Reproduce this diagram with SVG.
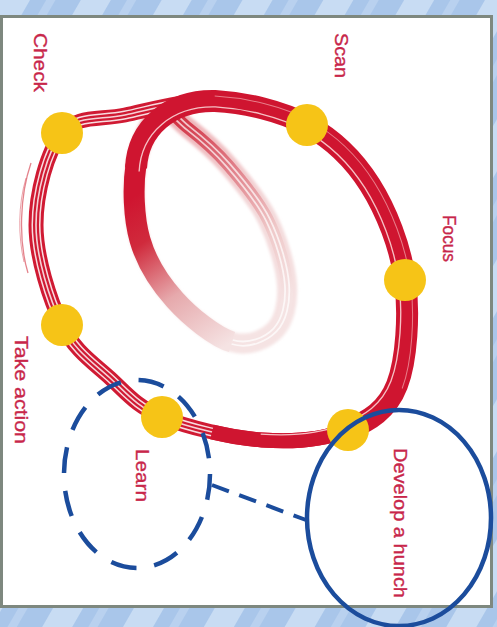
<svg xmlns="http://www.w3.org/2000/svg" width="497" height="627" viewBox="0 0 497 627">
  <defs>
    <pattern id="bgStripes" width="70" height="70" patternUnits="userSpaceOnUse" patternTransform="rotate(30)">
      <rect width="70" height="70" fill="#a9c6ea"/>
      <rect x="0" width="26" height="70" fill="#c8dcf3"/>
      <rect x="40" width="8" height="70" fill="#b9d1ef"/>
    </pattern>
    <linearGradient id="fadeLeft" gradientUnits="userSpaceOnUse" x1="136" y1="195" x2="232" y2="342">
      <stop offset="0" stop-color="#cf1530"/>
      <stop offset="0.25" stop-color="#d02a3c"/>
      <stop offset="0.6" stop-color="#e6a9ac"/>
      <stop offset="1" stop-color="#f5e3e3"/>
    </linearGradient>
    <linearGradient id="haze" gradientUnits="userSpaceOnUse" x1="170" y1="125" x2="270" y2="330">
      <stop offset="0" stop-color="#eeb3b7"/>
      <stop offset="0.5" stop-color="#f3d8d9"/>
      <stop offset="1" stop-color="#f5e3e3"/>
    </linearGradient>
    <linearGradient id="fadeBack" gradientUnits="userSpaceOnUse" x1="165" y1="118" x2="285" y2="300">
      <stop offset="0" stop-color="#d02a3c"/>
      <stop offset="0.35" stop-color="#e07c86"/>
      <stop offset="0.7" stop-color="#efc9c9"/>
      <stop offset="1" stop-color="#f5e3e3"/>
    </linearGradient>
    <filter id="soft" x="-10%" y="-10%" width="120%" height="120%">
      <feGaussianBlur stdDeviation="1.8"/>
    </filter>
    <style>
      .label { font-family: "Liberation Sans", Arial, sans-serif; font-size: 18px; fill: #c8264a; stroke: #c8264a; stroke-width: 0.35; }
      .dot { fill: #f6c417; }
      .ring { fill: none; stroke-linejoin: round; }
      .hl { fill: none; stroke: #1b4c9c; stroke-width: 4.5; }
    </style>
  </defs>

  <!-- backdrop and panel -->
  <rect x="0" y="0" width="497" height="627" fill="url(#bgStripes)"/>
  <rect x="1.5" y="16.5" width="490" height="590" fill="#ffffff" stroke="#7e887f" stroke-width="3"/>

  <!-- inner loop: pale haze with a back strand fading to white -->
  <g id="inner-loop">
    <path class="ring" stroke="url(#haze)" stroke-width="20" filter="url(#soft)" d="M160,112 C151.3,118.2 139.3,143.7 136,165 C132.7,186.3 133.5,217.5 140,240 C146.5,262.5 159.7,283 175,300 C190.3,317 215.3,337 232,342 C248.7,347 265.8,339.5 275,330 C284.2,320.5 288.2,303.3 287,285 C285.8,266.7 277.8,240 268,220 C258.2,200 241.3,180.3 228,165 C214.7,149.7 199.3,136.8 188,128 C176.7,119.2 168.7,105.8 160,112 Z"/>
    <path class="ring" stroke="url(#fadeBack)" stroke-width="12" d="M232,342 C248.7,347 265.8,339.5 275,330 C284.2,320.5 288.2,303.3 287,285 C285.8,266.7 277.8,240 268,220 C258.2,200 241.3,180.3 228,165 C214.7,149.7 199.3,136.8 188,128 C176.7,119.2 168.7,105.8 160,112"/>
    <path class="ring" stroke="#ffffff" stroke-opacity="0.7" stroke-width="6" d="M232,342 C248.7,347 265.8,339.5 275,330 C284.2,320.5 288.2,303.3 287,285 C285.8,266.7 277.8,240 268,220 C258.2,200 241.3,180.3 228,165 C214.7,149.7 199.3,136.8 188,128 C176.7,119.2 168.7,105.8 160,112"/>
    <path class="ring" stroke="url(#fadeBack)" stroke-width="2.5" d="M232,342 C248.7,347 265.8,339.5 275,330 C284.2,320.5 288.2,303.3 287,285 C285.8,266.7 277.8,240 268,220 C258.2,200 241.3,180.3 228,165 C214.7,149.7 199.3,136.8 188,128 C176.7,119.2 168.7,105.8 160,112"/>
  </g>

  <!-- outer loop drawn as bundled thin strands -->
  <g id="outer-loop">
    <path class="ring" stroke="#d01a33" stroke-width="15" d="M62,133 C76.8,114.7 99.5,120.3 125,115 C150.5,109.7 184.7,99.3 215,101 C245.3,102.7 281.2,111 307,125 C332.8,139 353.7,159.2 370,185 C386.3,210.8 400.5,246.7 405,280 C409.5,313.3 406.7,360 397,385 C387.3,410 369.5,420.8 347,430 C324.5,439.2 292.8,442.2 262,440 C231.2,437.8 187.3,427.3 162,417 C136.7,406.7 126.7,393.3 110,378 C93.3,362.7 74.3,350.5 62,325 C49.7,299.5 36,257 36,225 C36,193 47.2,151.3 62,133 Z"/>
    <path class="ring" stroke="#ffffff" stroke-opacity="0.85" stroke-width="9" d="M62,133 C76.8,114.7 99.5,120.3 125,115 C150.5,109.7 184.7,99.3 215,101 C245.3,102.7 281.2,111 307,125 C332.8,139 353.7,159.2 370,185 C386.3,210.8 400.5,246.7 405,280 C409.5,313.3 406.7,360 397,385 C387.3,410 369.5,420.8 347,430 C324.5,439.2 292.8,442.2 262,440 C231.2,437.8 187.3,427.3 162,417 C136.7,406.7 126.7,393.3 110,378 C93.3,362.7 74.3,350.5 62,325 C49.7,299.5 36,257 36,225 C36,193 47.2,151.3 62,133 Z"/>
    <path class="ring" stroke="#d01a33" stroke-width="6" d="M62,133 C76.8,114.7 99.5,120.3 125,115 C150.5,109.7 184.7,99.3 215,101 C245.3,102.7 281.2,111 307,125 C332.8,139 353.7,159.2 370,185 C386.3,210.8 400.5,246.7 405,280 C409.5,313.3 406.7,360 397,385 C387.3,410 369.5,420.8 347,430 C324.5,439.2 292.8,442.2 262,440 C231.2,437.8 187.3,427.3 162,417 C136.7,406.7 126.7,393.3 110,378 C93.3,362.7 74.3,350.5 62,325 C49.7,299.5 36,257 36,225 C36,193 47.2,151.3 62,133 Z"/>
    <path class="ring" stroke="#ffffff" stroke-opacity="0.8" stroke-width="1.6" d="M62,133 C76.8,114.7 99.5,120.3 125,115 C150.5,109.7 184.7,99.3 215,101 C245.3,102.7 281.2,111 307,125 C332.8,139 353.7,159.2 370,185 C386.3,210.8 400.5,246.7 405,280 C409.5,313.3 406.7,360 397,385 C387.3,410 369.5,420.8 347,430 C324.5,439.2 292.8,442.2 262,440 C231.2,437.8 187.3,427.3 162,417 C136.7,406.7 126.7,393.3 110,378 C93.3,362.7 74.3,350.5 62,325 C49.7,299.5 36,257 36,225 C36,193 47.2,151.3 62,133 Z"/>
    <!-- loose brush hairs on the left side -->
    <path class="ring" stroke="#d23040" stroke-opacity="0.6" stroke-width="1.3" d="M31,163 C20,195 18,240 28,273"/>
    <path class="ring" stroke="#d23040" stroke-opacity="0.45" stroke-width="1" d="M26,178 C18,205 18,236 24,262"/>
  </g>

  <!-- thick brush band: descends on the left, sweeps over the top and round the right -->
  <g id="thick-band">
    <path class="ring" stroke="url(#fadeLeft)" stroke-width="21" d="M136,165 C132.7,186.3 133.5,217.5 140,240 C146.5,262.5 159.7,283 175,300 C190.3,317 215.3,337 232,342"/>
    <path class="ring" stroke="#cf1530" stroke-width="22" d="M136,168 C138,128 170,100 215,101 C245.3,102.7 281.2,111 307,125 C332.8,139 353.7,159.2 370,185 C386.3,210.8 400.5,246.7 405,280 C409.5,313.3 406.7,360 397,385 C387.3,410 369.5,420.8 347,430"/>
    <path class="ring" stroke="#cf1530" stroke-width="15" d="M347,430 C324.5,439.2 292.8,442.2 262,440 C245,438.8 228,436 212,432"/>
    <path class="ring" stroke="#f6c0c4" stroke-width="1.4" transform="translate(225 270) scale(0.965) translate(-225 -270)" d="M136,168 C138,128 170,100 215,101 C245.3,102.7 281.2,111 307,125 C332.8,139 353.7,159.2 370,185 C386.3,210.8 400.5,246.7 405,280 C409.5,313.3 406.7,360 397,385 C387.3,410 369.5,420.8 347,430 C324.5,439.2 292.8,442.2 262,440"/>
    <path class="ring" stroke="#f2a8ae" stroke-opacity="0.7" stroke-width="1" transform="translate(225 270) scale(1.03) translate(-225 -270)" d="M215,101 C245.3,102.7 281.2,111 307,125 C332.8,139 353.7,159.2 370,185 C386.3,210.8 400.5,246.7 405,280 C409.5,313.3 406.7,360 397,385"/>
  </g>

  <!-- link between the two highlight rings -->
  <g id="connectors">
    <line x1="212" y1="485" x2="306" y2="520" stroke="#1b4c9c" stroke-width="4" stroke-dasharray="18 11"/>
  </g>

  <!-- stages -->
  <g id="stage-check">
    <circle class="dot" cx="62" cy="133" r="21"/>
    <text class="label" transform="translate(34 33) rotate(90)" textLength="59" lengthAdjust="spacingAndGlyphs">Check</text>
  </g>
  <g id="stage-scan">
    <circle class="dot" cx="307" cy="125" r="21"/>
    <text class="label" transform="translate(335 33) rotate(90)" textLength="45" lengthAdjust="spacingAndGlyphs">Scan</text>
  </g>
  <g id="stage-focus">
    <circle class="dot" cx="405" cy="280" r="21"/>
    <text class="label" transform="translate(443 215) rotate(90)" textLength="47" lengthAdjust="spacingAndGlyphs">Focus</text>
  </g>
  <g id="stage-develop">
    <circle class="dot" cx="348" cy="430" r="21"/>
    <ellipse class="hl" cx="399" cy="518" rx="92" ry="108"/>
    <text class="label" transform="translate(394 448) rotate(90)" textLength="150" lengthAdjust="spacingAndGlyphs">Develop a hunch</text>
  </g>
  <g id="stage-learn">
    <circle class="dot" cx="162" cy="417" r="21"/>
    <ellipse class="hl" cx="137" cy="474" rx="73" ry="94" stroke-dasharray="26 18"/>
    <text class="label" transform="translate(136 449) rotate(90)" textLength="53" lengthAdjust="spacingAndGlyphs">Learn</text>
  </g>
  <g id="stage-take-action">
    <circle class="dot" cx="62" cy="325" r="21"/>
    <text class="label" transform="translate(15 336) rotate(90)" textLength="108" lengthAdjust="spacingAndGlyphs">Take action</text>
  </g>
</svg>
